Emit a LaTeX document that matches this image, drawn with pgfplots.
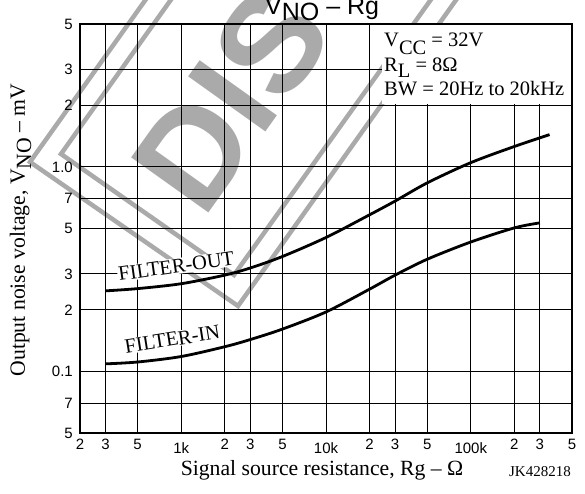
\documentclass[border=0pt]{standalone}
\usepackage{fontspec}
\setmainfont{Liberation Serif}
\newfontfamily\arial{Liberation Sans}
\usepackage{pgfplots}
\pgfplotsset{compat=1.18}
\definecolor{wm}{RGB}{170,170,170}
\newcommand\lab{\fontsize{20.5}{24}\selectfont}
\newcommand\axlab{\fontsize{21.7}{24}\selectfont}
\newcommand\tk{\arial\fontsize{15}{15}\selectfont}

\begin{document}
\begin{tikzpicture}
% DISCONTINUED stamp, behind the chart
\begin{scope}[x=1pt,y=1pt]
  \draw[wm, line width=4.5pt, line join=miter] (240,678) -- (-50,271) -- (158,127) -- (448,534);
  \draw[wm, line width=4.5pt, line join=miter] (271,686) -- (-19,279) -- (154,158) -- (445,565);
  \node[wm, anchor=base west, inner sep=0pt, rotate=54.5,
        font=\arial\bfseries\fontsize{138}{138}\selectfont] at (123,212) {DIS};
\end{scope}

\begin{axis}[
  scale only axis, width=492pt, height=409pt,
  xmode=log, ymode=log,
  xmin=200, xmax=500000, ymin=0.05, ymax=5,
  xtick={200,300,500,1000,2000,3000,5000,10000,20000,30000,50000,100000,200000,300000,500000},
  xticklabels={2,3,5,\raisebox{-4pt}{1k},2,3,5,\raisebox{-4pt}{10k},2,3,5,\raisebox{-4pt}{100k},2,3,5},
  ytick={0.05,0.07,0.1,0.2,0.3,0.5,0.7,1,2,3,5},
  yticklabels={5,7,0.1,2,3,5,7,1.0,2,3,5},
  tick align=inside, major tick length=0pt, minor tick length=0pt,
  grid=major, major grid style={black, line width=0.9pt},
  axis line style={black, line width=1.6pt},
  xticklabel style={font=\tk, anchor=base, inner sep=0pt, yshift=-16pt},
  yticklabel style={font=\tk, anchor=east, inner sep=0pt, xshift=-7pt},
]
\node[fill=white, inner sep=1pt, rotate=8, font=\lab] at (axis cs:924,0.327) {FILTER-OUT};
\node[fill=white, inner sep=1pt, rotate=9, font=\lab] at (axis cs:867,0.1436) {FILTER-IN};

% FILTER-OUT
\addplot[black, line width=2.8pt, smooth] coordinates {
  (300,0.2477) (500,0.2541) (1000,0.2685) (2000,0.2958) (3000,0.3206) (5000,0.3648)
  (10000,0.4519) (20000,0.5834) (30000,0.6808) (50000,0.8356) (100000,1.0495)
  (200000,1.259) (350000,1.439)};
% FILTER-IN
\addplot[black, line width=2.8pt, smooth] coordinates {
  (300,0.1089) (500,0.1112) (1000,0.1183) (2000,0.1321) (3000,0.1432) (5000,0.1611)
  (10000,0.1954) (20000,0.2526) (30000,0.2958) (50000,0.3537) (100000,0.4295)
  (200000,0.5035) (300000,0.5328)};
\end{axis}

\begin{scope}[x=1pt,y=1pt]
  \fill[white] (302,329) rectangle (491.2,408.2);
  \node[anchor=base west, inner sep=0pt, font=\lab] at (304,386) {V\raisebox{-8pt}{CC} = 32V};
  \node[anchor=base west, inner sep=0pt, font=\lab] at (304,361) {R\raisebox{-6pt}{L} = 8Ω};
  \node[anchor=base west, inner sep=0pt, font=\lab] at (304,337) {BW = 20Hz to 20kHz};
  \node[anchor=base west, inner sep=0pt, font=\arial\fontsize{25}{25}\selectfont]
    at (185,418) {V\raisebox{-6pt}{NO} – Rg};
  \node[rotate=90, anchor=base, inner sep=0pt, font=\axlab]
    at (-55,203) {Output noise voltage, V\raisebox{-6pt}{NO} – mV};
  \node[anchor=base, inner sep=0pt, font=\axlab] at (242,-42) {Signal source resistance, Rg – Ω};
  \node[anchor=base east, inner sep=0pt, font=\fontsize{15}{15}\selectfont] at (491,-44) {JK428218};
\end{scope}

\pgfresetboundingbox
\path[use as bounding box] (-80pt,-61pt) rectangle (505pt,433pt);
\end{tikzpicture}
\end{document}
